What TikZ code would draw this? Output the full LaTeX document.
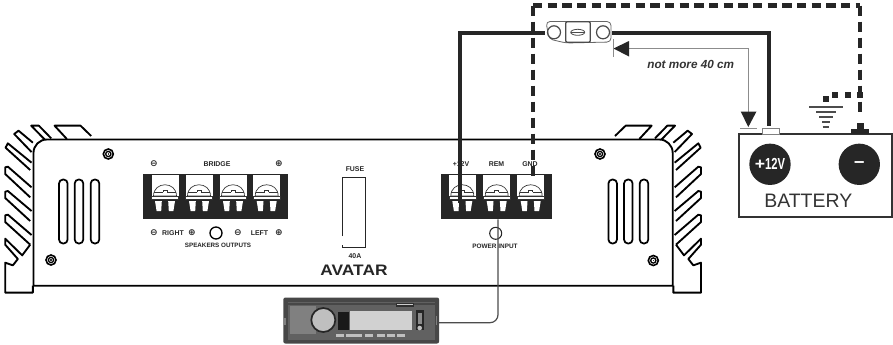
\documentclass[tikz,border=0pt]{standalone}
\usepackage{fontspec}
\setmainfont{Liberation Sans}
\newfontfamily\djv{DejaVu Sans}
\newcommand{\finset}{%
  \begin{scope}[shift={(590,110)},x=0.25pt,y=-0.25pt,fin/.style={line width=1.4pt,line join=round,black}]
    \draw[fin] (75,78)--(107,47)--(185,47)--(148,87);
    \draw[fin] (195,85)--(232,47)--(255,47)--(215,88);
    \draw[fin] (250,98)--(293,62)--(306,72)--(254,126);
    \draw[fin] (254,158)--(325,100)--(332,113)--(258,180);
    \draw[fin] (254,232)--(325,170)--(333,172)--(333,192)--(258,262);
    \draw[fin] (254,303)--(325,243)--(333,245)--(333,264)--(258,333);
    \draw[fin] (254,375)--(325,314)--(333,316)--(333,336)--(258,404);
    \draw[fin] (258,404)--(282,436)--(333,386)--(333,404)--(295,447)--(310,466)--(333,458)--(333,548)--(250,548)--(250,527);
  \end{scope}}
\tikzset{
  wire/.style={line width=3.5pt,color=black!85},
  gnd/.style={line width=3.4pt,color=black!85,dash pattern=on 7pt off 4pt},
  gndv/.style={line width=3.4pt,color=black!85,dash pattern=on 7.5pt off 4.5pt},
  lbl/.style={inner sep=0pt,font=\fontsize{5.2pt}{5.2pt}\selectfont\bfseries,text=black!85},
  sym/.style={inner sep=0pt,font=\djv\fontsize{6.8pt}{6.8pt}\selectfont\bfseries,text=black!85},
  slotb/.style={draw=black,line width=1.3pt,rounded corners=3pt},
  screw/.style={draw=black,line width=1.2pt,fill=white},
}
\newcommand{\term}[1]{%
  \fill[white] (#1-13.5,175) rectangle (#1+13.5,196);
  \draw[black!80,line width=.5pt,fill=white] (#1-11.5,196) .. controls (#1-11.5,181) and (#1+11.5,181) .. (#1+11.5,196) -- cycle;
  \draw[black!80,line width=.5pt] (#1-11,192) -- (#1-2,192) (#1+2,192) -- (#1+11,192) (#1-2,192) -- (#1-2,190.5) -- (#1+2,190.5) -- (#1+2,192);
  \draw[black!80,line width=.4pt,fill=white] (#1-13.5,196) rectangle (#1+13.5,199);
  \fill[white] (#1-10,201) -- (#1-3.2,201) -- (#1-3.8,211) -- (#1-8.4,211) -- cycle;
  \fill[white] (#1+10,201) -- (#1+3.2,201) -- (#1+3.8,211) -- (#1+8.4,211) -- cycle;
}
\newcommand{\screwat}[2]{%
  \draw[screw] (#1,#2) circle[radius=5];
  \draw[black,line width=1pt] (#1,#2) circle[radius=2.6];
  \fill[black!80] (#1-.8,#2-.8) rectangle (#1+.8,#2+.8);
}
\newcommand{\slotat}[1]{%
  \draw[slotb] (#1-4.3,179.5) rectangle (#1+4.3,243.5);
}
\begin{document}
\begin{tikzpicture}[x=0.75pt,y=-0.75pt]
\useasboundingbox (0,0) rectangle (893,344);
\fill[white] (0,0) rectangle (893,344);

% heat sink fins
\finset
\begin{scope}[xshift=529.65pt,xscale=-1]
\finset
\end{scope}

% amplifier body
\draw[black,line width=1.4pt,fill=white] (33.5,285.7) {[rounded corners=10pt] -- (33.5,139.5) -- (672.7,139.5)} -- (672.7,285.7) -- cycle;

% screws and slots
\screwat{108.3}{154}\screwat{51}{260}\screwat{600}{154}\screwat{653.3}{260.5}
\foreach \s in {63.3,79,95,612.7,628.3,644}{\slotat{\s}}

% terminal blocks
\fill[black!85] (143.3,174.3) rectangle (287.7,219.3);
\foreach \c in {165,199,233,266.7}{\term{\c}}
\fill[black!85] (441,174.3) rectangle (551.7,219.3);
\foreach \c in {462.3,496.7,530.7}{\term{\c}}

% panel labels
\node[lbl] (bridge) at (217,164) {BRIDGE};
\node[sym] (bm) at (154,164) {⊖};
\node[sym] (bp) at (279,164) {⊕};
\node[sym] (rm) at (154,233) {⊖};
\node[lbl] (right) at (173,233) {RIGHT};
\node[sym] (rp) at (192,233) {⊕};
\node[draw=black,line width=1pt,circle,minimum size=9pt,inner sep=0pt] (spk) at (216,233) {};
\node[sym] (lm) at (238,233) {⊖};
\node[lbl] (left) at (259.5,233) {LEFT};
\node[sym] (lp) at (279,233) {⊕};
\node[lbl,font=\fontsize{4.7pt}{4.7pt}\selectfont\bfseries] (spkout) at (218,245) {SPEAKERS OUTPUTS};
\node[lbl] (fuselbl) at (355,169) {FUSE};
\node[lbl] (amps) at (355,256) {40A};
\node[lbl] (v12) at (461,164) {+12V};
\node[lbl] (rem) at (496.5,164) {REM};
\node[lbl] (gndl) at (530,164) {GND};
\node[lbl,font=\fontsize{4.8pt}{4.8pt}\selectfont\bfseries] (pwr) at (495,246) {POWER INPUT};
\draw[black!85,line width=1.1pt] (342.7,236) -- (342.7,177.7) -- (365.3,177.7) -- (365.3,247.3) -- (342.7,247.3) -- (342.7,245);
\node[inner sep=0pt,xscale=1.14,font=\fontsize{11.4pt}{11.4pt}\selectfont\bfseries,text=black!85] (logo) at (354,270.5) {AVATAR};

% power input circle
\node[draw=black!85,line width=.8pt,circle,minimum size=9pt,inner sep=0pt,fill=white] (pc) at (495.7,233.3) {};

% radio
\node[inner sep=0pt,minimum width=116.8pt,minimum height=34.5pt,rounded corners=1.5pt,fill=black!72] (radio) at (361.2,320.5) {};
\fill[black!62] (288,302) rectangle (435,340);
\fill[black!50] (290,306) rectangle (316,334);
\fill[black!72] (288,303) rectangle (435,305);
\fill[black!82] (396,303) rectangle (414,306.5);
\fill[black!20] (397,304) rectangle (413,305.2);
\fill[black!18] (350,310.7) rectangle (411.7,330);
\fill[black!90] (338,311.5) rectangle (349,330);
\draw[black!85,fill=black!25,line width=1.3pt] (323.3,320) circle[radius=12];
\fill[black!85] (416,310) rectangle (423.5,330);
\fill[black!45] (417.5,313) rectangle (422,324);
\fill[black!25] (419.7,328) circle[radius=2.3];
\foreach \xa in {336,346,354,365,377,387,397}{\fill[black!25] (\xa,334) rectangle (\xa+8,337);}
\fill[black!50] (284,318) rectangle (285.5,325);
\fill[black!50] (435.5,316) rectangle (437,325);

% wires
\coordinate (remTop) at (498,219.3);
\coordinate (radioR) at (438.5,322.7);
\draw[black!70,line width=.9pt,rounded corners=6pt] (remTop) -- (498,322.7) -- (radioR);

% battery
\node[draw=black!80,line width=1.3pt,fill=white,inner sep=0pt,minimum width=114.5pt,minimum height=62pt] (battery) at (815.3,175.3) {};
\node[circle,fill=black!85,text=white,minimum size=31pt,inner sep=0pt,font=\fontsize{12pt}{12pt}\selectfont\bfseries] (pos) at (770,164.3) {\scalebox{1.1}[1]{+}\scalebox{.7}[1]{12V}};
\node[circle,fill=black!85,text=white,minimum size=31pt,inner sep=0pt,font=\fontsize{14pt}{14pt}\selectfont\bfseries] (neg) at (859.3,164.3) {–};
\node[inner sep=0pt,font=\fontsize{14.6pt}{14.6pt}\selectfont,text=black!80] (battxt) at (808.3,201) {BATTERY};

\node[draw=black!50,line width=.5pt,fill=white,inner sep=0pt,minimum width=13pt,minimum height=4.4pt] (posT) at (770.5,131) {};
\node[fill=black!85,inner sep=0pt,minimum width=14pt,minimum height=3.8pt] (negT) at (860,131.5) {};
\fill[black!85] (856.5,122.5) rectangle (863.5,130);

% fuse
\coordinate (fuseL) at (546,33);
\coordinate (fuseR) at (611,33);
\coordinate (p12) at (460,203);
\coordinate (p12b) at (769,126);
\draw[wire,line join=miter] (p12) -- (460,33) -- (fuseL);
\draw[wire,line join=miter] (fuseR) -- (769,33) -- (p12b);
\coordinate (g1) at (533,178);
\coordinate (g2) at (860,115);
\draw[gnd] (533,5.5) -- (860,5.5);
\draw[gndv] (533,5.5) -- (g1);
\draw[gndv] (860,5.5) -- (g2);
\fill[white] (545,20) rectangle (612,44);
\draw[black!60,line width=.6pt,fill=white,rounded corners=3pt] (546,21.5) -- (611,21.5) -- (611,42) -- (566,43) -- (549,39) -- cycle;
\node[draw=black!70,line width=.9pt,fill=white,inner sep=0pt,minimum width=18.5pt,minimum height=15.5pt,rounded corners=1pt] (fuse) at (578,32) {};
\draw[black!70,line width=.9pt] (554,32.3) circle[radius=6.5];
\draw[black!70,line width=.9pt] (603,32.3) circle[radius=6.5];
\draw[black!70,line width=.6pt] (577.7,32.3) ellipse[x radius=7,y radius=3];
\draw[black!70,line width=.6pt] (571,32.3) -- (584.5,32.3);

% measure arrow
\coordinate (mL) at (628,48.3);
\coordinate (mB) at (748.3,112);
\draw[black!45,line width=.7pt] (mL) -- (748.3,48.3) -- (mB);
\fill[black!85] (613.5,48.5) -- (629,41) -- (629,56.5) -- cycle;
\draw[black!45,line width=.7pt] (613,39) -- (613,57);
\fill[black!85] (748.3,127) -- (740.7,111.5) -- (756.5,111.5) -- cycle;
\draw[black!45,line width=.7pt] (740,128) -- (757,128);
\node[inner sep=0pt,font=\fontsize{8.8pt}{8.8pt}\selectfont\bfseries\itshape,text=black!80] (nm) at (690.7,64.3) {not more 40 cm};

% ground
\foreach \yy/\hw in {106.7/16.7,112.3/10,117.3/6.7,122.3/4,126.7/3.3}{\draw[black!70,line width=1.4pt] (826-\hw,\yy) -- (826+\hw,\yy);}
\foreach \gx/\gy in {826/98.7,835/94.5,847.7/94.5,860/94.5}{\fill[black!85] (\gx-3,\gy-3) rectangle (\gx+3,\gy+3);}
\end{tikzpicture}
\end{document}
